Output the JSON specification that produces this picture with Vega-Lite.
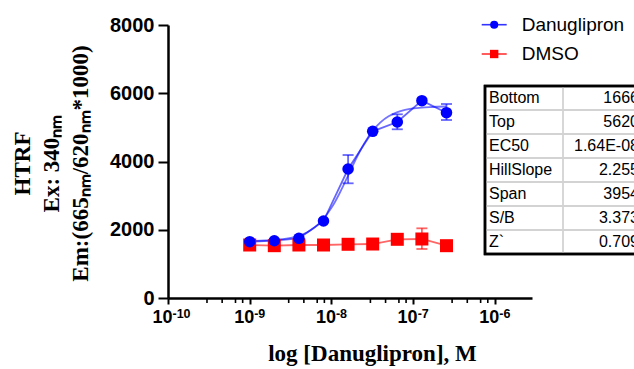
{
  "$schema": "https://vega.github.io/schema/vega-lite/v6.json",
  "width": 364,
  "height": 273,
  "autosize": {"type": "none"},
  "padding": {"left": 168, "top": 25, "right": 102, "bottom": 71},
  "background": "white",
  "config": {"view": {"stroke": null}, "axis": {"grid": false}},
  "datasets": {
    "pts": [
      {"conc": 1e-9, "series": "DMSO", "y": 1553},
      {"conc": 2e-9, "series": "DMSO", "y": 1533},
      {"conc": 4e-9, "series": "DMSO", "y": 1553},
      {"conc": 8e-9, "series": "DMSO", "y": 1553},
      {"conc": 1.6e-8, "series": "DMSO", "y": 1574},
      {"conc": 3.2e-8, "series": "DMSO", "y": 1582},
      {"conc": 6.4e-8, "series": "DMSO", "y": 1720},
      {"conc": 1.28e-7, "series": "DMSO", "y": 1729, "lo": 1436, "hi": 2042},
      {"conc": 2.56e-7, "series": "DMSO", "y": 1533},
      {"conc": 1e-9, "series": "Danuglipron", "y": 1650},
      {"conc": 2e-9, "series": "Danuglipron", "y": 1679},
      {"conc": 4e-9, "series": "Danuglipron", "y": 1749},
      {"conc": 8e-9, "series": "Danuglipron", "y": 2256},
      {"conc": 1.6e-8, "series": "Danuglipron", "y": 3780, "lo": 3361, "hi": 4190},
      {"conc": 3.2e-8, "series": "Danuglipron", "y": 4885},
      {"conc": 6.4e-8, "series": "Danuglipron", "y": 5158, "lo": 4944, "hi": 5383},
      {"conc": 1.28e-7, "series": "Danuglipron", "y": 5782},
      {"conc": 2.56e-7, "series": "Danuglipron", "y": 5430, "lo": 5216, "hi": 5685}
    ],
    "curve": [
      {"conc": 1e-9, "y": 1673},
      {"conc": 1.585e-9, "y": 1686},
      {"conc": 2.512e-9, "y": 1723},
      {"conc": 3.981e-9, "y": 1822},
      {"conc": 5.012e-9, "y": 1921},
      {"conc": 6.31e-9, "y": 2077},
      {"conc": 7.943e-9, "y": 2311},
      {"conc": 1e-8, "y": 2641},
      {"conc": 1.122e-8, "y": 2844},
      {"conc": 1.259e-8, "y": 3069},
      {"conc": 1.413e-8, "y": 3312},
      {"conc": 1.585e-8, "y": 3566},
      {"conc": 1.778e-8, "y": 3822},
      {"conc": 1.995e-8, "y": 4073},
      {"conc": 2.239e-8, "y": 4309},
      {"conc": 2.512e-8, "y": 4525},
      {"conc": 3.162e-8, "y": 4887},
      {"conc": 3.981e-8, "y": 5148},
      {"conc": 5.012e-8, "y": 5325},
      {"conc": 6.31e-8, "y": 5439},
      {"conc": 7.943e-8, "y": 5510},
      {"conc": 1e-7, "y": 5554},
      {"conc": 1.259e-7, "y": 5580},
      {"conc": 1.585e-7, "y": 5596},
      {"conc": 2.56e-7, "y": 5612}
    ],
    "minor": [
      {"conc": 3e-10}, {"conc": 4.6e-10}, {"conc": 6.7e-10}, {"conc": 8.2e-10},
      {"conc": 3e-9}, {"conc": 4.6e-9}, {"conc": 6.7e-9}, {"conc": 8.2e-9},
      {"conc": 3e-8}, {"conc": 4.6e-8}, {"conc": 6.7e-8}, {"conc": 8.2e-8},
      {"conc": 3e-7}, {"conc": 4.6e-7}, {"conc": 6.7e-7}, {"conc": 8.2e-7}
    ],
    "exps": [
      {"conc": 1e-10, "exp": "-10"},
      {"conc": 1e-9, "exp": "-9"},
      {"conc": 1e-8, "exp": "-8"},
      {"conc": 1e-7, "exp": "-7"},
      {"conc": 1e-6, "exp": "-6"}
    ],
    "legend": [
      {"row": 0, "series": "Danuglipron"},
      {"row": 1, "series": "DMSO"}
    ],
    "table": [
      {"row": 0, "label": "Bottom", "value": "1666"},
      {"row": 1, "label": "Top", "value": "5620"},
      {"row": 2, "label": "EC50", "value": "1.64E-08"},
      {"row": 3, "label": "HillSlope", "value": "2.255"},
      {"row": 4, "label": "Span", "value": "3954"},
      {"row": 5, "label": "S/B", "value": "3.373"},
      {"row": 6, "label": "Z`", "value": "0.709"}
    ]
  },
  "layer": [
    {
      "layer": [
        {
          "data": {"name": "pts"},
          "mark": {"type": "line", "strokeWidth": 1.8, "opacity": 0.6},
          "encoding": {
            "x": {
              "field": "conc", "type": "quantitative",
              "scale": {"type": "log", "domain": [1e-10, 2.85e-6], "nice": false},
              "axis": {
                "values": [1e-10, 1e-9, 1e-8, 1e-7, 1e-6],
                "labelExpr": "'10'",
                "labelFont": "Liberation Sans", "labelFontWeight": "bold", "labelFontSize": 18,
                "labelColor": "black", "labelPadding": 4, "labelFlush": false, "labelOverlap": false,
                "labelOffset": -6,
                "tickSize": 6, "tickWidth": 2, "tickColor": "black",
                "domainColor": "black", "domainWidth": 2.5,
                "title": "log [Danuglipron], M",
                "titleFont": "Liberation Serif", "titleFontSize": 23, "titleFontWeight": "bold",
                "titleColor": "black", "titleX": 204, "titleY": 62, "titleBaseline": "alphabetic", "titleAlign": "center"
              }
            },
            "y": {
              "field": "y", "type": "quantitative",
              "scale": {"domain": [0, 8000], "nice": false},
              "axis": {
                "values": [0, 2000, 4000, 6000, 8000], "format": "d",
                "labelFont": "Liberation Sans", "labelFontWeight": "bold", "labelFontSize": 20,
                "labelColor": "black", "labelPadding": 4,
                "tickSize": 10, "tickWidth": 2, "tickColor": "black",
                "domainColor": "black", "domainWidth": 2.5,
                "title": ["HTRF", "Ex: 340ₙₘ", "Em:(665ₙₘ/620ₙₘ*1000)"],
                "titleFont": "Liberation Serif", "titleFontSize": 23, "titleFontWeight": "bold",
                "titleColor": "black", "titleLineHeight": 29,
                "titleX": -157, "titleY": 138, "titleBaseline": "top", "titleAlign": "center", "titleAngle": -90
              }
            },
            "detail": {"field": "series"},
            "order": {"field": "conc"},
            "color": {"condition": {"test": "datum.series === 'DMSO'", "value": "#ff0000"}, "value": "#0000ff"}
          }
        },
        {
          "data": {"name": "curve"},
          "mark": {"type": "line", "color": "#0000ff", "opacity": 0.55, "strokeWidth": 1.8, "interpolate": "monotone"},
          "encoding": {
            "x": {"field": "conc", "type": "quantitative"},
            "y": {"field": "y", "type": "quantitative"}
          }
        },
        {
          "data": {"name": "pts"},
          "transform": [{"filter": "isValid(datum.lo)"}],
          "mark": {"type": "rule", "strokeWidth": 1.8, "opacity": 0.6},
          "encoding": {
            "x": {"field": "conc", "type": "quantitative"},
            "y": {"field": "lo", "type": "quantitative"},
            "y2": {"field": "hi"},
            "color": {"condition": {"test": "datum.series === 'DMSO'", "value": "#ff0000"}, "value": "#0000ff"}
          }
        },
        {
          "data": {"name": "pts"},
          "transform": [{"filter": "isValid(datum.lo)"}],
          "mark": {"type": "tick", "orient": "horizontal", "size": 11, "thickness": 1.8, "opacity": 0.6},
          "encoding": {
            "x": {"field": "conc", "type": "quantitative"},
            "y": {"field": "lo", "type": "quantitative"},
            "color": {"condition": {"test": "datum.series === 'DMSO'", "value": "#ff0000"}, "value": "#0000ff"}
          }
        },
        {
          "data": {"name": "pts"},
          "transform": [{"filter": "isValid(datum.hi)"}],
          "mark": {"type": "tick", "orient": "horizontal", "size": 11, "thickness": 1.8, "opacity": 0.6},
          "encoding": {
            "x": {"field": "conc", "type": "quantitative"},
            "y": {"field": "hi", "type": "quantitative"},
            "color": {"condition": {"test": "datum.series === 'DMSO'", "value": "#ff0000"}, "value": "#0000ff"}
          }
        },
        {
          "data": {"name": "minor"},
          "mark": {"type": "tick", "orient": "vertical", "size": 5, "thickness": 1.6, "color": "black", "opacity": 1, "yOffset": 2.5},
          "encoding": {
            "x": {"field": "conc", "type": "quantitative"},
            "y": {"datum": 0, "type": "quantitative"}
          }
        },
        {
          "data": {"name": "exps"},
          "mark": {"type": "text", "align": "left", "baseline": "top", "dx": 4.5, "dy": 10, "font": "Liberation Sans", "fontWeight": "bold", "fontSize": 12.5, "color": "black"},
          "encoding": {
            "x": {"field": "conc", "type": "quantitative"},
            "y": {"datum": 0, "type": "quantitative"},
            "text": {"field": "exp"}
          }
        },
        {
          "data": {"name": "pts"},
          "mark": {"type": "point", "filled": true, "opacity": 1},
          "encoding": {
            "x": {"field": "conc", "type": "quantitative"},
            "y": {"field": "y", "type": "quantitative"},
            "color": {
              "field": "series", "type": "nominal",
              "scale": {"domain": ["Danuglipron", "DMSO"], "range": ["#0000ff", "#ff0000"]},
              "legend": null
            },
            "shape": {
              "field": "series", "type": "nominal",
              "scale": {"domain": ["Danuglipron", "DMSO"], "range": ["circle", "square"]},
              "legend": null
            },
            "size": {
              "field": "series", "type": "ordinal",
              "scale": {"domain": ["Danuglipron", "DMSO"], "range": [133, 169]},
              "legend": null
            }
          }
        }
      ]
    },
    {
      "data": {"name": "legend"},
      "layer": [
        {
          "mark": {"type": "rule", "strokeWidth": 1.6, "opacity": 0.8},
          "encoding": {
            "x": {"datum": 0, "type": "quantitative", "scale": {"domain": [-12.548, 2.012], "nice": false, "zero": false}, "axis": null},
            "x2": {"datum": 1},
            "y": {"field": "row", "type": "quantitative", "scale": {"domain": [0.0102, 9.327], "nice": false, "zero": false, "reverse": true}, "axis": null},
            "color": {"condition": {"test": "datum.series === 'DMSO'", "value": "#ff0000"}, "value": "#0000ff"}
          }
        },
        {
          "mark": {"type": "point", "filled": true, "opacity": 1},
          "encoding": {
            "x": {"datum": 0.5, "type": "quantitative"},
            "y": {"field": "row", "type": "quantitative"},
            "shape": {"condition": {"test": "datum.series === 'DMSO'", "value": "square"}, "value": "circle"},
            "size": {"condition": {"test": "datum.series === 'DMSO'", "value": 70}, "value": 66},
            "color": {"condition": {"test": "datum.series === 'DMSO'", "value": "#ff0000"}, "value": "#0000ff"}
          }
        },
        {
          "mark": {"type": "text", "align": "left", "baseline": "middle", "font": "Liberation Sans", "fontSize": 19, "color": "black"},
          "encoding": {
            "x": {"datum": 1.6, "type": "quantitative"},
            "y": {"field": "row", "type": "quantitative"},
            "text": {"field": "series"}
          }
        }
      ]
    },
    {
      "layer": [
        {
          "data": {"values": [{}]},
          "mark": {"type": "rect", "fill": "white", "stroke": "black", "strokeWidth": 2.5},
          "encoding": {
            "x": {"datum": 0, "type": "quantitative", "scale": {"domain": [-4.0641, 0.6026], "nice": false, "zero": false}, "axis": null},
            "x2": {"datum": 2.1},
            "y": {"datum": -0.5, "type": "quantitative", "scale": {"domain": [-3.042, 8.333], "nice": false, "zero": false, "reverse": true}, "axis": null},
            "y2": {"datum": 6.5}
          }
        },
        {
          "data": {"name": "table"},
          "transform": [{"filter": "datum.row < 6"}],
          "mark": {"type": "rule", "color": "#d3d3d3", "strokeWidth": 1.8, "yOffset": 12},
          "encoding": {
            "x": {"datum": 0, "type": "quantitative"},
            "x2": {"datum": 2.1},
            "y": {"field": "row", "type": "quantitative"}
          }
        },
        {
          "data": {"values": [{}]},
          "mark": {"type": "rule", "color": "#d3d3d3", "strokeWidth": 1.8},
          "encoding": {
            "x": {"datum": 1, "type": "quantitative"},
            "y": {"datum": -0.5, "type": "quantitative"},
            "y2": {"datum": 6.5}
          }
        },
        {
          "data": {"values": [{}]},
          "mark": {"type": "rect", "fill": null, "stroke": "black", "strokeWidth": 2.5},
          "encoding": {
            "x": {"datum": 0, "type": "quantitative"},
            "x2": {"datum": 2.1},
            "y": {"datum": -0.5, "type": "quantitative"},
            "y2": {"datum": 6.5}
          }
        },
        {
          "data": {"name": "table"},
          "mark": {"type": "text", "align": "left", "baseline": "middle", "dx": 4, "font": "Liberation Sans", "fontSize": 16, "color": "black"},
          "encoding": {
            "x": {"datum": 0, "type": "quantitative"},
            "y": {"field": "row", "type": "quantitative"},
            "text": {"field": "label"}
          }
        },
        {
          "data": {"name": "table"},
          "mark": {"type": "text", "align": "right", "baseline": "middle", "font": "Liberation Sans", "fontSize": 16, "color": "black"},
          "encoding": {
            "x": {"datum": 1.974, "type": "quantitative"},
            "y": {"field": "row", "type": "quantitative"},
            "text": {"field": "value"}
          }
        }
      ]
    }
  ],
  "resolve": {"scale": {"x": "independent", "y": "independent"}}
}
